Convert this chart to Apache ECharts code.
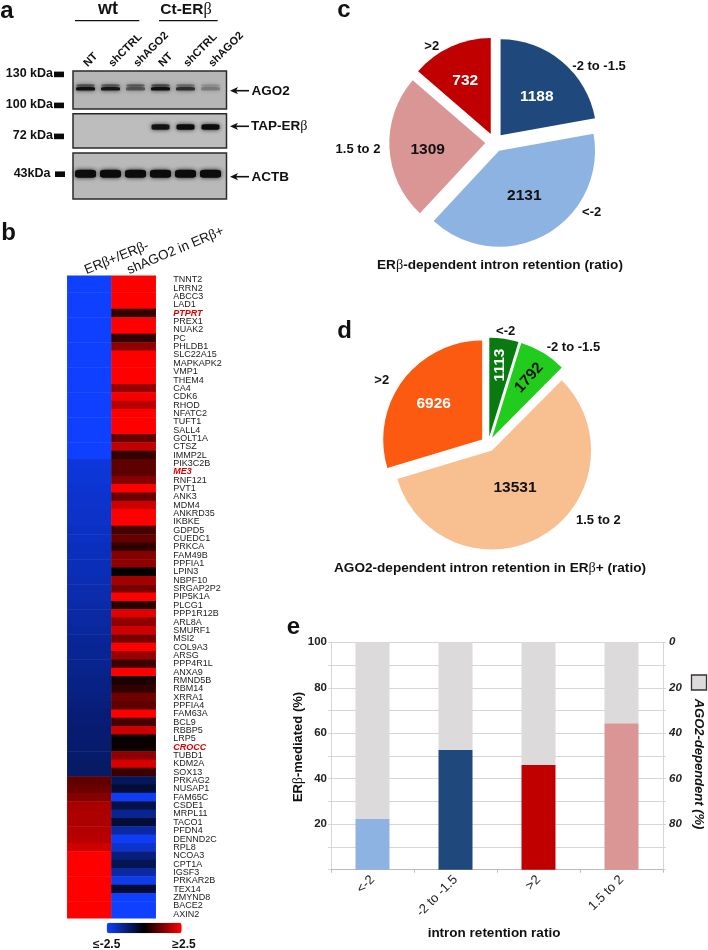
<!DOCTYPE html>
<html><head><meta charset="utf-8">
<style>html,body{margin:0;padding:0;background:#fff}#c{width:708px;height:950px}</style>
<script src="https://cdn.jsdelivr.net/npm/echarts@6/dist/echarts.min.js"></script>
</head><body><div id="c"></div>
<script>
// ---------- data ----------
const lanes = ['NT','shCTRL','shAGO2','NT','shCTRL','shAGO2'];
const ago2Lower = [0.95,0.9,0.45,0.95,0.7,0.25];
const ago2Upper = [0.6,0.55,0.55,0.65,0.4,0.2];
const tapBand = [0,0,0,0.9,1,1];
const actbBand = [1,1,1,1,1,1];
const kda = ['130 kDa','100 kDa','72 kDa','43kDa'];

const genes = ['TNNT2','LRRN2','ABCC3','LAD1','PTPRT','PREX1','NUAK2','PC','PHLDB1','SLC22A15','MAPKAPK2','VMP1','THEM4','CA4','CDK6','RHOD','NFATC2','TUFT1','SALL4','GOLT1A','CTSZ','IMMP2L','PIK3C2B','ME3','RNF121','PVT1','ANK3','MDM4','ANKRD35','IKBKE','GDPD5','CUEDC1','PRKCA','FAM49B','PPFIA1','LPIN3','NBPF10','SRGAP2P2','PIP5K1A','PLCG1','PPP1R12B','ARL8A','SMURF1','MSI2','COL9A3','ARSG','PPP4R1L','ANXA9','RMND5B','RBM14','XRRA1','PPFIA4','FAM63A','BCL9','RBBP5','LRP5','CROCC','TUBD1','KDM2A','SOX13','PRKAG2','NUSAP1','FAM65C','CSDE1','MRPL11','TACO1','PFDN4','DENND2C','RPL8','NCOA3','CPT1A','IGSF3','PRKAR2B','TEX14','ZMYND8','BACE2','AXIN2'];
const redGenes = ['PTPRT','ME3','CROCC'];
const heatCols = ['ERβ+/ERβ-','shAGO2 in ERβ+'];
const erRatio = [-2.5,-2.5,-2.5,-2.5,-2.5,-2.5,-2.5,-2.5,-2.5,-2.5,-2.5,-2.5,-2.5,-2.5,-2.5,-2.5,-2.5,-2.5,-2.5,-2.5,-2.5,-2.5,
 -2.15,-2.1,-2.1,-2.05,-2.0,-2.0,-1.95,-1.95,-1.9,-1.9,-1.85,-1.85,-1.8,-1.8,-1.75,-1.7,-1.7,-1.65,-1.6,-1.6,-1.55,-1.5,-1.45,-1.45,-1.4,-1.35,-1.3,-1.3,-1.25,-1.2,-1.15,-1.15,-1.1,-1.1,-1.05,-1.05,-1.0,-1.0,
 0.95,1.05,1.3,1.65,1.7,1.7,1.75,1.8,2.05,2.5,2.5,2.5,2.5,2.5,2.5,2.5,2.5];
const shAgo2 = [2.5,2.5,2.5,2.5,0.5,2.5,2.5,0.5,1.4,2.5,2.5,2.5,2.5,1.5,2.4,1.8,2.5,2.5,2.5,1.0,1.9,0.5,0.9,0.9,1.3,2.5,1.0,2.0,2.5,2.5,0.7,1.0,0.45,1.3,1.4,0.05,1.6,1.2,2.5,0.4,2.2,1.4,2.0,1.2,2.5,1.5,0.6,2.5,0.25,0.5,1.1,0.9,2.5,0.7,2.0,0.1,0.1,1.4,2.1,0.6,
 -0.9,-0.5,-2.4,-0.7,-1.4,-0.55,-1.6,-2.4,-2.0,-1.2,-0.8,-1.6,-2.3,-0.5,-2.5,-2.5,-2.5];
const heatScaleText = ['≤-2.5','≥2.5'];

const cNames = ['-2 to -1.5','<-2','1.5 to 2','>2'];
const cValues = [1188,2131,1309,732];
const cColors = ['#1f497d','#8db3e2','#d99694','#c00000'];
const dNames = ['<-2','-2 to -1.5','1.5 to 2','>2'];
const dValues = [1113,1792,13531,6926];
const dColors = ['#087a10','#22cc1c','#f8bf90','#fb5a10'];

const ratioCats = ['<-2','-2 to -1.5','>2','1.5 to 2'];
const erMediated = [22.3,52.6,46,64.4];
const agoDependent = [77.7,47.4,54,35.6];
const barColors = ['#8db3e2','#1f497d','#c00000','#d99694'];

// ---------- helpers ----------
const SANS = '"Liberation Sans", Arial, sans-serif';
function richify(s){ return s.split(/(β)/).filter(Boolean).map(p=>p==='β'?'{g|β}':'{t|'+p+'}').join(''); }
function txt(s,x,y,o){
  o=o||{};
  const size=o.size||13, w=o.weight||'bold', st=o.fontStyle||'normal', col=o.color||'#111';
  return {type:'text',x:x,y:y,rotation:(o.rot||0)*Math.PI/180,silent:true,z:20,
    style:{text:richify(String(s)),align:o.align||'center',verticalAlign:'middle',
      rich:{t:{fontFamily:SANS,fontSize:size,fontWeight:w,fontStyle:st,fill:col,color:col},
            g:{fontFamily:'"Liberation Serif", serif',fontSize:size*1.05,fontWeight:'normal',fontStyle:st,fill:col,color:col}}}};
}
function rect(x,y,w,h,fill,stroke,z,lw){return {type:'rect',silent:true,z:z===undefined?20:z,shape:{x,y,width:w,height:h},style:{fill:fill,stroke:stroke||null,lineWidth:stroke?(lw||1.3):0}};}
function line(x1,y1,x2,y2,lw,col){return {type:'line',silent:true,z:20,shape:{x1,y1,x2,y2},style:{stroke:col||'#111',lineWidth:lw||1}};}
function arrow(x1,x2,y){return [line(x1+5,y,x2,y,1.6,'#111'),{type:'polygon',silent:true,z:20,shape:{points:[[x1,y],[x1+8,y-3.6],[x1+6,y],[x1+8,y+3.6]]},style:{fill:'#111'}}];}

function blotGrid(top,h){return {left:73,width:150,top:top,height:h};}
function blotX(i,showLabels){return {type:'category',gridIndex:i,data:lanes,position:'top',boundaryGap:true,
  axisLine:{show:false},axisTick:{show:false},splitLine:{show:false},
  axisLabel:{show:showLabels,rotate:45,interval:0,margin:6,fontFamily:SANS,fontWeight:'bold',fontSize:11,color:'#111'}};}
function blotY(i){return {type:'value',gridIndex:i,min:0,max:1,show:false,splitLine:{show:false}};}
function bandSeries(i,values,yPos,w,h,op){
  return {type:'scatter',xAxisIndex:i,yAxisIndex:i,symbol:'roundRect',symbolSize:[w,h],silent:true,
    data:values.map((v,k)=>({value:[k,yPos],itemStyle:{opacity:v*op}})).filter(d=>d.itemStyle.opacity>0),
    itemStyle:{color:'#0c0c0c',shadowBlur:4,shadowColor:'#222'}};
}

const series=[];
series.push(bandSeries(0,ago2Upper,0.62,18,2.5,0.8));
series.push(bandSeries(0,ago2Lower,0.53,19,3.5,1));
series.push(bandSeries(1,tapBand,0.61,18,5.5,1));
series.push(bandSeries(2,actbBand,0.55,21,8,1));
const heatIdx=series.length;
const heatData=[];
genes.forEach((g,r)=>{heatData.push([0,r,erRatio[r]]);heatData.push([1,r,shAgo2[r]]);});
series.push({type:'heatmap',xAxisIndex:3,yAxisIndex:3,data:heatData,silent:true,progressive:0,itemStyle:{borderWidth:0}});

function pie(center,r,offset,names,vals,cols){
  return {type:'pie',center:center,radius:[0,r],startAngle:90,clockwise:true,selectedMode:'multiple',selectedOffset:offset,
    silent:true,avoidLabelOverlap:false,label:{show:false},labelLine:{show:false},
    data:vals.map((v,i)=>({name:names[i],value:v,selected:true,itemStyle:{color:cols[i]}}))};
}
series.push(pie([494.6,142.5],96,9.3,cNames,cValues,cColors));
series.push(pie([488.2,444.1],99,7.5,dNames,dValues,dColors));

series.push({type:'bar',xAxisIndex:4,yAxisIndex:4,stack:'ratio',barWidth:34,silent:true,
  data:erMediated.map((v,i)=>({value:v,itemStyle:{color:barColors[i]}}))});
series.push({type:'bar',xAxisIndex:4,yAxisIndex:4,stack:'ratio',barWidth:34,silent:true,itemStyle:{color:'#dcdada'},data:agoDependent});
// right axis carries no marks of its own; an empty series keeps it live
series.push({type:'line',xAxisIndex:4,yAxisIndex:5,data:[],silent:true});

const barLabel={fontFamily:SANS,fontWeight:'bold',fontSize:11.5,color:'#222'};
const G=[];
G.push(txt('a',7,11,{size:24}),txt('b',8.5,233,{size:24}),txt('c',344,10,{size:24}),txt('d',344.5,331,{size:24}),txt('e',293.5,627,{size:24}));
// panel a
G.push(txt('wt',108,9.5,{size:18}),txt('Ct-ERβ',186,9.5,{size:15.5}));
G.push(line(75,20.7,139.3,20.7,1.2),line(159,20.7,217.7,20.7,1.2));
[[kda[0],74,53],[kda[1],105,53],[kda[2],136,53],[kda[3],174,50.5]].forEach(k=>{G.push(txt(k[0],k[2],k[1],{size:12.5,align:'right'}));});
[[54,71.6],[54,102.6],[54,133.6],[55,171.4]].forEach(m=>G.push(rect(m[0],m[1],10,5.6,'#0a0a0a')));
[[71,38,'#b6b6b6'],[113.7,34.3,'#bdbdbd'],[153,46,'#b9b9b9']].forEach(p=>G.push(rect(73,p[0],153.5,p[1],p[2],'#2a2a2a',0,1.5)));
G.push(...arrow(230,249,90.7),...arrow(230,249,126.3),...arrow(230,249,176.7));
G.push(txt('AGO2',251.5,91,{size:13.5,align:'left'}),txt('TAP-ERβ',251,126,{size:13.5,align:'left'}),txt('ACTB',251.5,177,{size:13.5,align:'left'}));
// heat headers and scale
G.push(txt(heatCols[0],116.7,258,{size:13.5,weight:'normal',rot:22}),txt(heatCols[1],175.5,250.7,{size:13.5,weight:'normal',rot:22.8}));
G.push(txt(heatScaleText[0],106.7,945,{size:12}),txt(heatScaleText[1],184,945,{size:12}));
// pie c
const cValPos=[[536.7,96.7,'#fff'],[524.3,196,'#111'],[427.7,149.7,'#111'],[465.3,81,'#fff']];
cValues.forEach((v,i)=>G.push(txt(v,cValPos[i][0],cValPos[i][1],{size:15.5,color:cValPos[i][2]})));
const cLabPos=[[572.3,66,'left'],[591.7,212.3,'center'],[358,149.3,'center'],[431.7,46,'center']];
cNames.forEach((n,i)=>G.push(txt(n,cLabPos[i][0],cLabPos[i][1],{size:13,align:cLabPos[i][2]})));
G.push(txt('ERβ-dependent intron retention (ratio)',500,265,{size:13.6}));
// pie d
const dValPos=[[500,365,'#fff',90],[529,377.7,'#111',48],[515,487.7,'#111',0],[433.7,403.3,'#fff',0]];
dValues.forEach((v,i)=>G.push(txt(v,dValPos[i][0],dValPos[i][1],{size:15.5,color:dValPos[i][2],rot:dValPos[i][3]})));
const dLabPos=[[505.7,331,'center'],[546.7,347.7,'left'],[576,520.7,'left'],[381.7,380,'center']];
dNames.forEach((n,i)=>G.push(txt(n,dLabPos[i][0],dLabPos[i][1],{size:13,align:dLabPos[i][2]})));
G.push(txt('AGO2-dependent intron retention in ERβ+ (ratio)',490,568.3,{size:13.6}));
// panel e names
G.push(txt('ERβ-mediated (%)',298,747,{size:13,rot:90}));
G.push(txt('AGO2-dependent (%)',699,764,{size:13,rot:-90,fontStyle:'italic'}));
G.push(txt('intron retention ratio',494,933,{size:13.5}));
G.push(rect(691.5,675,15,15,'#dcdada','#333'));

const barAxisLine={show:true,lineStyle:{color:'#d6d6d6'}};
const option={
  animation:false,backgroundColor:'#fff',textStyle:{fontFamily:SANS},
  grid:[blotGrid(71,38),blotGrid(113.7,34.3),blotGrid(153,46),
    {left:67.3,width:88.4,top:275.7,height:642.6},
    {left:331,width:332,top:642.3,height:227.4}],
  xAxis:[blotX(0,true),blotX(1,false),blotX(2,false),
    {type:'category',gridIndex:3,data:heatCols,position:'top',axisLine:{show:false},axisTick:{show:false},splitLine:{show:false},axisLabel:{show:false}},
    {type:'category',gridIndex:4,data:ratioCats,axisLine:{lineStyle:{color:'#bbb'}},axisTick:{show:true,length:3,lineStyle:{color:'#bbb'}},
     axisLabel:{interval:0,rotate:45,margin:8,fontFamily:SANS,fontSize:13,color:'#222'}}],
  yAxis:[blotY(0),blotY(1),blotY(2),
    {type:'category',gridIndex:3,data:genes,inverse:true,position:'right',axisLine:{show:false},axisTick:{show:false},splitLine:{show:false},
     axisLabel:{interval:0,margin:17.5,fontFamily:SANS,fontSize:9,color:'#222',align:'left',
       formatter:v=>redGenes.includes(v)?'{r|'+v+'}':v,
       rich:{r:{fontFamily:SANS,fontSize:9,fontWeight:'bold',fontStyle:'italic',color:'#e00000'}}}},
    {type:'value',gridIndex:4,min:0,max:100,interval:10,position:'left',
     axisLine:barAxisLine,axisTick:{show:true,length:3,lineStyle:{color:'#d6d6d6'}},
     splitLine:{show:true,lineStyle:{color:'#d6d6d6',width:1}},
     axisLabel:Object.assign({margin:4,formatter:v=>(v>0&&v%20===0)?String(v):''},barLabel)},
    {type:'value',gridIndex:4,min:0,max:100,interval:10,inverse:true,position:'right',
     axisLine:barAxisLine,axisTick:{show:true,length:3,lineStyle:{color:'#d6d6d6'}},splitLine:{show:false},
     axisLabel:Object.assign({margin:6,fontStyle:'italic',formatter:v=>(v<100&&v%20===0)?String(v):''},barLabel)}],
  visualMap:[{type:'continuous',seriesIndex:heatIdx,min:-2.5,max:2.5,orient:'horizontal',left:91.7,top:907.7,
    itemWidth:10.5,itemHeight:75,calculable:false,hoverLink:false,showLabel:false,text:null,realtime:false,
    inRange:{color:['#0f40ff','#000000','#ff0000']}}],
  graphic:{elements:G},
  series:series
};
echarts.init(document.getElementById('c'),null,{renderer:'canvas'}).setOption(option);
</script></body></html>
